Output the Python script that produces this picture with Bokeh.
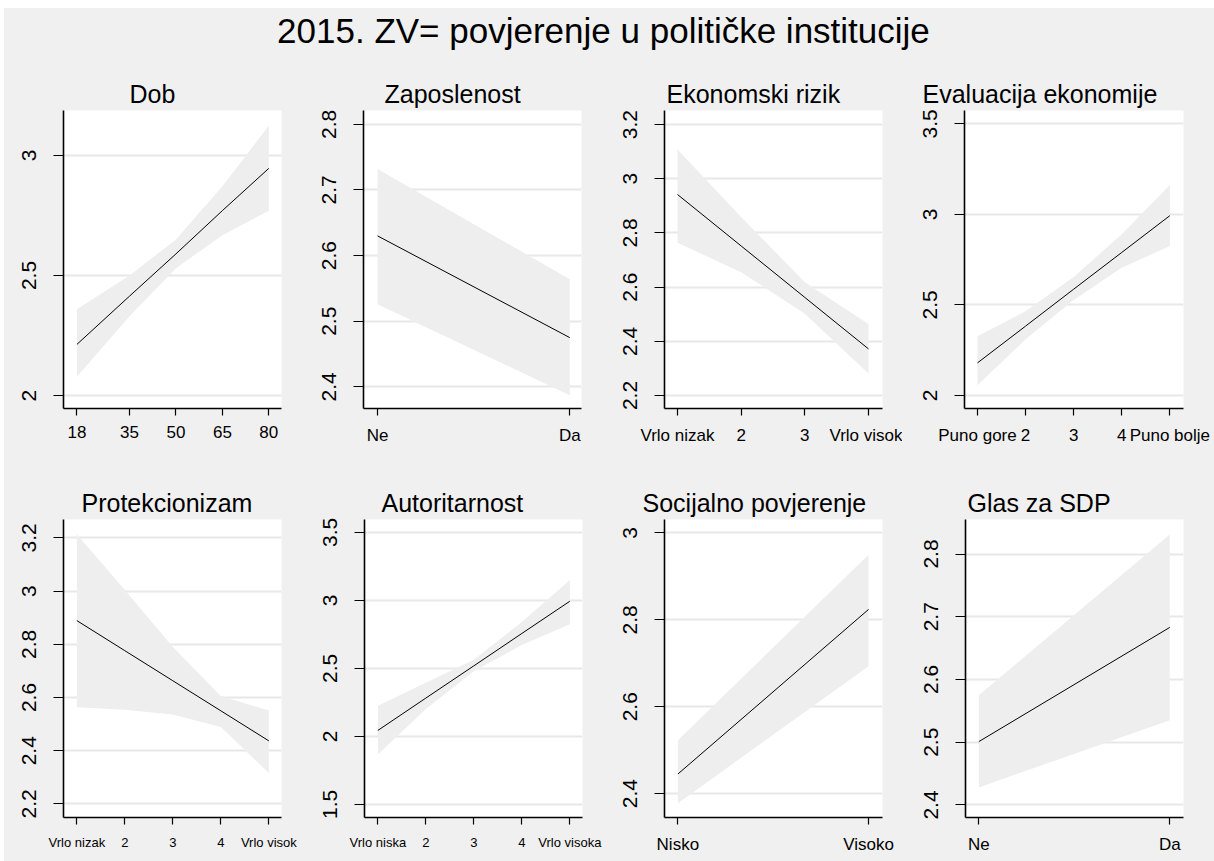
from bokeh.plotting import figure
from bokeh.models import Range1d, FixedTicker, Label, Title
from bokeh.layouts import column, row
from bokeh.embed import file_html
from bokeh.resources import INLINE

# ---------------- data ----------------
main_title = "2015. ZV= povjerenje u političke institucije"

panel_titles = ["Dob", "Zaposlenost", "Ekonomski rizik", "Evaluacija ekonomije",
                "Protekcionizam", "Autoritarnost", "Socijalno povjerenje", "Glas za SDP"]

dob_x = [18, 35, 50, 65, 80]
dob_fit = [2.213, 2.414, 2.590, 2.770, 2.946]
dob_lo = [2.078, 2.330, 2.530, 2.668, 2.770]
dob_hi = [2.359, 2.500, 2.650, 2.872, 3.123]
dob_xlabels = ["18", "35", "50", "65", "80"]

zap_x = [0, 1]
zap_fit = [2.630, 2.475]
zap_lo = [2.526, 2.387]
zap_hi = [2.732, 2.564]
zap_xlabels = ["Ne", "Da"]

eko_x = [1, 2, 3, 4]
eko_fit = [2.942, 2.752, 2.562, 2.372]
eko_lo = [2.764, 2.655, 2.502, 2.281]
eko_hi = [3.108, 2.859, 2.618, 2.464]
eko_xlabels = ["Vrlo nizak", "2", "3", "Vrlo visok"]

eval_x = [1, 2, 3, 4, 5]
eval_fit = [2.180, 2.383, 2.587, 2.790, 2.993]
eval_lo = [2.057, 2.310, 2.527, 2.705, 2.825]
eval_hi = [2.327, 2.465, 2.655, 2.890, 3.162]
eval_xlabels = ["Puno gore", "2", "3", "4", "Puno bolje"]

prot_x = [1, 2, 3, 4, 5]
prot_fit = [2.889, 2.776, 2.663, 2.550, 2.437]
prot_lo = [2.563, 2.554, 2.536, 2.489, 2.316]
prot_hi = [3.214, 3.004, 2.790, 2.606, 2.551]
prot_xlabels = ["Vrlo nizak", "2", "3", "4", "Vrlo visok"]

aut_x = [1, 2, 3, 4, 5]
aut_fit = [2.043, 2.281, 2.518, 2.756, 2.993]
aut_lo = [1.867, 2.200, 2.478, 2.671, 2.824]
aut_hi = [2.224, 2.394, 2.563, 2.841, 3.150]
aut_xlabels = ["Vrlo niska", "2", "3", "4", "Vrlo visoka"]

soc_x = [0, 1]
soc_fit = [2.445, 2.824]
soc_lo = [2.378, 2.693]
soc_hi = [2.523, 2.950]
soc_xlabels = ["Nisko", "Visoko"]

sdp_x = [0, 1]
sdp_fit = [2.501, 2.683]
sdp_lo = [2.428, 2.535]
sdp_hi = [2.575, 2.831]
sdp_xlabels = ["Ne", "Da"]

y_ticks = [
    [2, 2.5, 3],
    [2.4, 2.5, 2.6, 2.7, 2.8],
    [2.2, 2.4, 2.6, 2.8, 3.0, 3.2],
    [2, 2.5, 3, 3.5],
    [2.2, 2.4, 2.6, 2.8, 3.0, 3.2],
    [1.5, 2, 2.5, 3, 3.5],
    [2.4, 2.6, 2.8, 3.0],
    [2.4, 2.5, 2.6, 2.7, 2.8],
]
y_labels = [
    ["2", "2.5", "3"],
    ["2.4", "2.5", "2.6", "2.7", "2.8"],
    ["2.2", "2.4", "2.6", "2.8", "3", "3.2"],
    ["2", "2.5", "3", "3.5"],
    ["2.2", "2.4", "2.6", "2.8", "3", "3.2"],
    ["1.5", "2", "2.5", "3", "3.5"],
    ["2.4", "2.6", "2.8", "3"],
    ["2.4", "2.5", "2.6", "2.7", "2.8"],
]

series = [
    (dob_x, dob_fit, dob_lo, dob_hi, dob_xlabels),
    (zap_x, zap_fit, zap_lo, zap_hi, zap_xlabels),
    (eko_x, eko_fit, eko_lo, eko_hi, eko_xlabels),
    (eval_x, eval_fit, eval_lo, eval_hi, eval_xlabels),
    (prot_x, prot_fit, prot_lo, prot_hi, prot_xlabels),
    (aut_x, aut_fit, aut_lo, aut_hi, aut_xlabels),
    (soc_x, soc_fit, soc_lo, soc_hi, soc_xlabels),
    (sdp_x, sdp_fit, sdp_lo, sdp_hi, sdp_xlabels),
]

# axis limits
x_lims = [(13.66, 84.1), (-0.073, 1.061), (0.796, 4.22), (0.73, 5.284),
          (0.722, 5.264), (0.722, 5.264), (-0.07, 1.073), (-0.07, 1.072)]
y_lims = [(1.946, 3.187), (2.367, 2.821), (2.152, 3.252), (1.928, 3.574),
          (2.149, 3.269), (1.403, 3.594), (2.345, 3.031), (2.380, 2.855)]

# ---------------- style / layout ----------------
FONT = "Liberation Sans"
BG = "#f0f0f0"
BAND = "#eeeeee"
GRID = "#e8e8e8"

col_w = [303, 299, 296, 312]
row_h = [390, 403]
b_left = [59, 56, 58, 62, 59, 57, 58, 63]
f_w = [218, 218, 218, 219, 218, 218, 218, 218]
b_top = [42, 42, 42, 42, 61, 61, 61, 61]
f_h = [298, 298, 298, 298, 303, 303, 298, 298]
title_off = [66, 21, 2, -42, 18, 17, -22, 2]
xlab_size = ["17px", "17px", "17px", "17px", "13px", "13px", "17px", "17px"]


def make_panel(i):
    xs, fit, lo, hi, xl = series[i]
    c = i % 4
    r = i // 4
    w = col_w[c]
    h = row_h[r]
    bl = b_left[i]
    br = w - bl - f_w[i]
    bt = b_top[i]
    bb = h - bt - f_h[i]
    p = figure(width=w, height=h, output_backend="svg", toolbar_location=None,
               x_range=Range1d(*x_lims[i]), y_range=Range1d(*y_lims[i]),
               min_border_left=bl, min_border_right=br,
               min_border_top=bt, min_border_bottom=bb)
    p.title = Title(text=panel_titles[i], align="left", offset=title_off[i],
                    text_font=FONT, text_font_size="25px", text_font_style="normal",
                    text_color="#000000", standoff=6)
    p.background_fill_color = "white"
    p.border_fill_color = BG
    p.outline_line_color = None

    p.varea(x=xs, y1=lo, y2=hi, fill_color=BAND, fill_alpha=1.0)
    p.line(x=xs, y=fit, line_color="black", line_width=1)

    p.xgrid.visible = False
    p.ygrid.grid_line_color = GRID
    p.ygrid.grid_line_width = 2

    xa = p.xaxis[0]
    xa.ticker = FixedTicker(ticks=xs)
    xa.major_label_overrides = dict(zip(xs, xl))
    xa.major_label_text_font = FONT
    xa.major_label_text_font_size = xlab_size[i]
    xa.major_label_text_color = "black"
    xa.major_tick_out = 7
    xa.major_tick_in = 0
    xa.minor_tick_line_color = None
    xa.axis_line_width = 1.6
    xa.axis_line_color = "black"
    xa.major_tick_line_color = "black"
    xa.major_tick_line_width = 1.2
    xa.major_label_standoff = 10

    ya = p.yaxis[0]
    ya.ticker = FixedTicker(ticks=y_ticks[i])
    ya.major_label_overrides = dict(zip(y_ticks[i], y_labels[i]))
    ya.major_label_orientation = "vertical"
    ya.major_label_text_font = FONT
    ya.major_label_text_font_size = "21px"
    ya.major_label_text_color = "black"
    ya.major_tick_out = 10
    ya.major_tick_in = 0
    ya.minor_tick_line_color = None
    ya.axis_line_width = 1.6
    ya.axis_line_color = "black"
    ya.major_tick_line_color = "black"
    ya.major_tick_line_width = 1.2
    ya.major_label_standoff = 17
    return p


panels = [make_panel(i) for i in range(8)]

top = figure(width=sum(col_w), height=60, output_backend="svg", toolbar_location=None,
             x_range=Range1d(0, 1), y_range=Range1d(0, 1),
             x_axis_location=None, y_axis_location=None, min_border=0)
top.grid.visible = False
top.outline_line_color = None
top.background_fill_color = BG
top.border_fill_color = BG
top.add_layout(Label(x=0.495, y=0.63, text=main_title, text_align="center",
                     text_baseline="middle", text_font=FONT, text_font_size="35px",
                     text_color="black"))

bg = {"background-color": BG}
layout = column(top,
                row(*panels[:4], styles=bg),
                row(*panels[4:], styles=bg),
                styles=bg, margin=(8, 0, 0, 4))

open("out.html", "w").write(file_html(layout, INLINE))
